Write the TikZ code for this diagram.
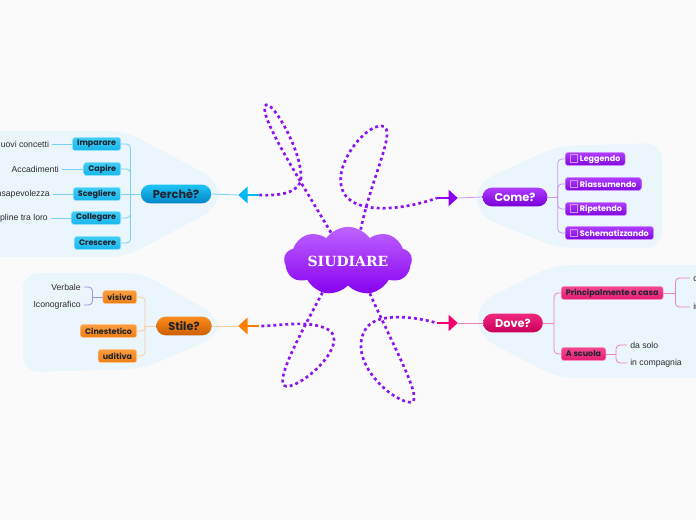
\documentclass[tikz,border=0pt]{standalone}
\usepackage{fontspec}
\setmainfont{Liberation Sans}
\newfontfamily\boxfont{Poppins}
\newfontfamily\titlefont{DejaVu Serif}
\usepackage{xcolor}
\usepackage{tikz}
\usetikzlibrary{positioning,shapes.symbols,shapes.arrows}

\definecolor{bgC}{RGB}{250,250,250}
\definecolor{regC}{RGB}{234,245,252}
\definecolor{dotC}{RGB}{140,20,240}
\definecolor{cloudTop}{RGB}{190,100,255}
\definecolor{cloudBot}{RGB}{135,0,240}
\definecolor{perTop}{RGB}{30,195,245}
\definecolor{perBot}{RGB}{0,135,200}
\definecolor{perArr}{RGB}{0,185,245}
\definecolor{perLn}{RGB}{120,210,240}
\definecolor{comTop}{RGB}{175,60,255}
\definecolor{comBot}{RGB}{120,0,215}
\definecolor{comArr}{RGB}{140,0,240}
\definecolor{comLn}{RGB}{205,150,240}
\definecolor{stiTop}{RGB}{250,140,30}
\definecolor{stiBot}{RGB}{205,95,0}
\definecolor{stiArr}{RGB}{255,125,0}
\definecolor{stiLn}{RGB}{250,205,160}
\definecolor{dovTop}{RGB}{240,40,125}
\definecolor{dovBot}{RGB}{200,0,90}
\definecolor{dovArr}{RGB}{245,0,110}
\definecolor{dovLn}{RGB}{240,130,180}
\definecolor{visLn}{RGB}{150,150,225}
\definecolor{darkT}{RGB}{30,35,45}
\definecolor{leafT}{RGB}{45,45,45}

\newcommand{\chkbox}{{\color{comLn}\setlength{\fboxsep}{0pt}\setlength{\fboxrule}{0.5pt}\fbox{\rule{0pt}{5pt}\hspace{5pt}}}\hspace{1.5pt}}

\begin{document}
\begin{tikzpicture}[
    x=0.75pt, y=-0.75pt,
    topic/.style={rectangle, rounded corners=7pt, minimum height=14pt,
                  inner xsep=9pt, inner ysep=0pt,
                  font=\boxfont\bfseries\fontsize{8.5}{10}\selectfont},
    sub/.style={rectangle, rounded corners=2pt, minimum height=9.75pt,
                inner xsep=3.5pt, inner ysep=0pt, line width=0.4pt,
                font=\boxfont\bfseries\fontsize{6}{7}\selectfont},
    perbox/.style={sub, top color=perTop!85!white, bottom color=perTop!80!perBot,
                   draw=perTop!50!white, text=darkT},
    combox/.style={sub, top color=comTop, bottom color=comBot!85!comTop,
                   draw=comTop!60!white, text=white},
    stibox/.style={sub, top color=stiTop!85!white, bottom color=stiTop!70!stiBot,
                   draw=stiTop!50!white, text=darkT},
    dovbox/.style={sub, top color=dovTop!85!white, bottom color=dovTop!70!dovBot,
                   draw=dovTop!50!white, text=darkT},
    leaf/.style={inner sep=2.25pt, font=\fontsize{6.5}{8}\selectfont, text=leafT},
    region/.style={fill=regC, rounded corners=12pt},
    dots/.style={draw=dotC, line width=2pt, dash pattern=on 2.2pt off 2.3pt},
    blk/.style={single arrow, inner sep=0pt, minimum height=15.5pt,
                minimum width=12.5pt, single arrow head extend=2pt,
                single arrow tip angle=84},
    lnPer/.style={draw=perLn, line width=0.6pt},
    lnCom/.style={draw=comLn, line width=0.6pt},
    lnSti/.style={draw=stiLn, line width=0.6pt},
    lnDov/.style={draw=dovLn, line width=0.6pt},
    lnVis/.style={draw=visLn, line width=0.6pt},
]
\clip (0,0) rectangle (696,520);
\fill[bgC] (0,0) rectangle (696,520);

% Light regions behind each branch
\fill[region] (-20,131) -- (125,131) -- (219,181) -- (219,207) -- (125,257) -- (-20,257) -- cycle;
\fill[region] (23,273) -- (142,273) -- (219,317) -- (219,336) -- (142,369) -- (23,372) -- cycle;
\fill[region] (477,183) -- (558,146) -- (662,143) -- (662,248) -- (558,248) -- (477,215) -- cycle;
\fill[region] (478,303) -- (554,265) -- (720,265) -- (720,378) -- (558,378) -- (478,336) -- cycle;

% Central topic
\node[cloud, cloud puffs=9, cloud puff arc=110, aspect=2.6, minimum width=90pt, minimum height=40pt,
      top color=cloudTop, bottom color=cloudBot, text=white,
      font=\titlefont\bfseries\fontsize{10.5}{12}\selectfont] (cloud) at (348,261) {SIUDIARE};

% Main topics
\node[topic, top color=perTop, bottom color=perBot, text=darkT] (per) at (176,194) {Perchè?};
\node[topic, top color=comTop, bottom color=comBot, text=white] (com) at (515,197) {Come?};
\node[topic, top color=stiTop, bottom color=stiBot, text=darkT] (sti) at (184,326) {Stile?};
\node[topic, top color=dovTop, bottom color=dovBot, text=white] (dov) at (513,323) {Dove?};

% Block arrows
\node[blk, fill=perArr, shape border rotate=180] (aPer) at (249,195) {};
\node[blk, fill=comArr] (aCom) at (447,198) {};
\node[blk, fill=stiArr, shape border rotate=180] (aSti) at (249,326) {};
\node[blk, fill=dovArr] (aDov) at (447,323) {};

\draw[lnPer] (aPer.tip) -- (per.east);
\draw[lnCom] (aCom.tip) -- (com.west);
\draw[lnSti] (aSti.tip) -- (sti.east);
\draw[lnDov] (aDov.tip) -- (dov.west);

% Dotted loops from the cloud
\draw[dots] (cloud.121) .. controls (300,180) and (260,118) .. (265,106)
            .. controls (270,96) and (302,150) .. (301,178)
            .. controls (300,193) and (280,196) .. (aPer.tail);
\draw[dots] (cloud.68) .. controls (372,175) and (398,128) .. (382,126)
            .. controls (365,124) and (328,170) .. (345,195)
            .. controls (360,216) and (410,208) .. (aCom.tail);
\draw[dots] (cloud.231) .. controls (300,335) and (268,392) .. (290,386)
            .. controls (312,380) and (352,338) .. (325,328)
            .. controls (305,320) and (280,326) .. (aSti.tail);
\draw[dots] (cloud.304) .. controls (395,350) and (428,408) .. (408,402)
            .. controls (388,398) and (348,360) .. (365,330)
            .. controls (376,310) and (420,318) .. (aDov.tail);

% Perche branch
\node[perbox, anchor=east] (imp) at (121,144) {Imparare};
\node[perbox, anchor=east] (cap) at (121,169) {Capire};
\node[perbox, anchor=east] (sce) at (121,194) {Scegliere};
\node[perbox, anchor=east] (col) at (121,218) {Collegare};
\node[perbox, anchor=east] (cre) at (121,243) {Crescere};
\node[leaf, left=15pt of imp] (nuo) {nuovi concetti};
\node[leaf, left=16pt of cap] (acc) {Accadimenti};
\node[leaf, left=15pt of sce] (con) {Consapevolezza};
\node[leaf, left=15pt of col] (dis) {discipline tra loro};

\draw[lnPer] (per.west) -- ++(-10,0) coordinate (tPer);
\draw[lnPer, rounded corners=3pt] (tPer) |- (imp.east);
\draw[lnPer, rounded corners=3pt] (tPer) |- (cap.east);
\draw[lnPer] (tPer) -- (sce.east);
\draw[lnPer, rounded corners=3pt] (tPer) |- (col.east);
\draw[lnPer, rounded corners=3pt] (tPer) |- (cre.east);
\draw[lnPer] (imp) -- (nuo);
\draw[lnPer] (cap) -- (acc);
\draw[lnPer] (sce) -- (con);
\draw[lnPer] (col) -- (dis);

% Come branch
\node[combox, anchor=west] (leg) at (565,159) {\chkbox Leggendo};
\node[combox, anchor=west] (ria) at (565,184) {\chkbox Riassumendo};
\node[combox, anchor=west] (rip) at (565,209) {\chkbox Ripetendo};
\node[combox, anchor=west] (sch) at (565,233) {\chkbox Schematizzando};

\draw[lnCom] (com.east) -- ++(10,0) coordinate (tCom);
\draw[lnCom, rounded corners=3pt] (tCom) |- (leg.west);
\draw[lnCom, rounded corners=3pt] (tCom) |- (ria.west);
\draw[lnCom, rounded corners=3pt] (tCom) |- (rip.west);
\draw[lnCom, rounded corners=3pt] (tCom) |- (sch.west);

% Stile branch
\node[stibox, anchor=east] (vis) at (137,297) {visiva};
\node[stibox, anchor=east] (cin) at (137,331) {Cinestetico};
\node[stibox, anchor=east] (udi) at (137,356) {uditiva};
\node[leaf, anchor=east] (ver) at (84,287) {Verbale};
\node[leaf, anchor=east] (ico) at (84,305) {Iconografico};

\draw[lnSti] (sti.west) -- ++(-11,0) coordinate (tSti);
\draw[lnSti, rounded corners=3pt] (tSti) |- (vis.east);
\draw[lnSti, rounded corners=3pt] (tSti) |- (cin.east);
\draw[lnSti, rounded corners=3pt] (tSti) |- (udi.east);
\draw[lnVis] (vis.west) -- ++(-10,0) coordinate (tVis);
\draw[lnVis, rounded corners=3pt] (tVis) |- (ver.east);
\draw[lnVis, rounded corners=3pt] (tVis) |- (ico.east);

% Dove branch
\node[dovbox, anchor=west] (pri) at (561,293) {Principalmente a casa};
\node[dovbox, anchor=west] (asc) at (561,354) {A scuola};
\node[leaf, anchor=west] (das) at (627,345) {da solo};
\node[leaf, anchor=west] (inc) at (627,363) {in compagnia};
\node[leaf, anchor=west] (pda) at (690,278) {da solo};
\node[leaf, anchor=west] (pin) at (690,307) {in compagnia};

\draw[lnDov] (dov.east) -- ++(11,0) coordinate (tDov);
\draw[lnDov, rounded corners=3pt] (tDov) |- (pri.west);
\draw[lnDov, rounded corners=3pt] (tDov) |- (asc.west);
\draw[lnDov] (asc.east) -- ++(10,0) coordinate (tAsc);
\draw[lnDov, rounded corners=3pt] (tAsc) |- (das.west);
\draw[lnDov, rounded corners=3pt] (tAsc) |- (inc.west);
\draw[lnDov] (pri.east) -- ++(12,0) coordinate (tPri);
\draw[lnDov, rounded corners=3pt] (tPri) |- (pda.west);
\draw[lnDov, rounded corners=3pt] (tPri) |- (pin.west);

\end{tikzpicture}
\end{document}
